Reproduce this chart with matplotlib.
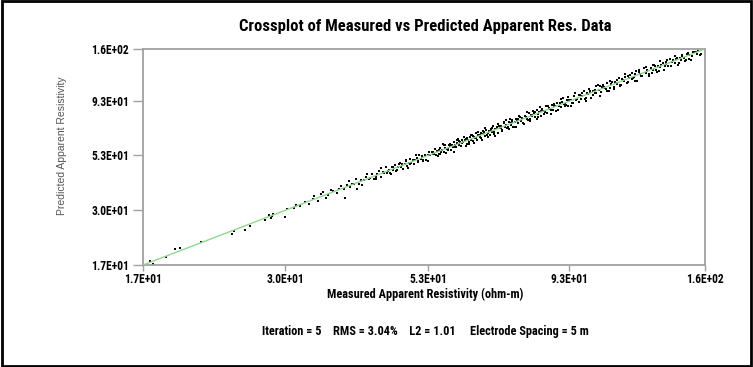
import matplotlib
matplotlib.use("Agg")
import matplotlib.pyplot as plt
from matplotlib import font_manager
from matplotlib.patches import Rectangle
from matplotlib.ticker import NullLocator
import numpy as np

# measured vs predicted apparent resistivity (ohm-m)
measured_low = [17.5, 17.7, 18.6, 19.3, 19.7, 21.4, 24.2, 24.4, 25.5, 26.0,
                27.7, 28.1, 28.3, 28.4, 28.6, 30.0, 30.2, 31.0, 31.3, 31.8,
                32.4, 32.9, 33.5, 33.6, 34.2, 34.6, 34.9, 35.3, 35.6, 36.0]
predicted_low = [17.7, 17.2, 18.4, 20.0, 20.3, 21.6, 23.4, 24.2, 24.4, 25.6,
                 27.1, 28.6, 27.6, 28.2, 28.9, 27.9, 30.3, 30.6, 31.6, 31.2,
                 32.8, 31.9, 33.9, 34.8, 33.1, 35.6, 36.4, 34.0, 35.2, 36.9]

measured_mid = [36.3, 36.8, 37.2, 37.5, 37.9, 38.1, 38.4, 38.8, 39.1, 39.5,
                39.8, 40.2, 40.5, 40.7, 41.1, 41.4, 41.8, 42.0, 42.3, 42.7,
                43.0, 43.3, 43.6, 43.9, 44.2, 44.5, 44.8, 45.0, 45.3, 45.6,
                45.9, 46.1, 46.4, 46.7, 47.0, 47.2, 47.5, 47.8, 48.0, 48.3,
                48.6, 48.8, 49.1, 49.4, 49.6, 49.9, 50.2, 50.4, 50.7, 51.0,
                51.2, 51.5, 51.8, 52.0, 52.3, 52.6, 52.9, 53.2, 53.5, 53.8,
                45.1, 46.0, 46.9, 47.7, 48.5, 49.3, 50.1, 50.9, 51.7, 52.5]
predicted_mid = [36.7, 35.9, 37.3, 38.7, 37.6, 34.2, 39.2, 38.3, 39.5, 39.4,
                 41.4, 39.4, 41.2, 39.0, 41.1, 42.5, 41.3, 41.8, 43.8, 41.5,
                 42.3, 43.6, 44.9, 42.5, 44.8, 44.4, 46.9, 44.1, 45.6, 44.4,
                 46.8, 45.7, 47.9, 44.9, 47.1, 48.3, 46.8, 48.3, 46.0, 48.7,
                 49.9, 47.7, 48.9, 51.3, 49.0, 50.6, 48.7, 50.6, 51.7, 50.1,
                 53.4, 51.2, 52.3, 50.5, 53.5, 50.8, 53.2, 54.8, 53.0, 54.8,
                 44.9, 47.0, 45.4, 48.2, 50.3, 48.4, 50.4, 49.6, 52.6, 50.4]

measured_dense = [54.0, 54.2, 54.5, 54.7, 55.0, 55.1, 55.4, 55.6, 55.9, 56.1,
                  56.4, 56.6, 56.8, 57.1, 57.3, 57.6, 57.8, 58.1, 58.3, 58.5,
                  58.8, 59.0, 59.3, 59.5, 59.8, 60.0, 60.3, 60.5, 60.8, 61.0,
                  61.3, 61.6, 61.8, 62.1, 62.4, 62.6, 62.9, 63.2, 63.4, 63.7,
                  64.0, 64.3, 64.5, 64.8, 65.1, 65.4, 65.7, 66.0, 66.3, 66.6,
                  66.9, 67.2, 67.5, 67.8, 68.1, 68.4, 68.7, 69.0, 69.3, 69.7,
                  70.0, 70.3, 70.7, 71.0, 71.3, 71.7, 72.0, 72.4, 72.7, 73.1,
                  73.4, 73.8, 74.1, 74.5, 74.9, 75.2, 75.6, 76.0, 76.4, 76.8,
                  77.2, 77.6, 78.0, 78.4, 78.8, 79.2, 79.6, 80.0, 80.4, 80.9,
                  81.3, 81.7, 82.2, 82.6, 83.1, 83.5, 84.0, 84.4, 84.9, 85.3,
                  85.8, 86.3, 86.8, 87.2, 87.7, 88.2, 88.7, 89.2, 89.7, 90.2,
                  90.7, 91.2, 91.8, 92.3, 92.8, 93.4, 93.9, 94.5, 95.0, 95.6,
                  53.3, 54.1, 54.9, 55.7, 56.5, 57.3, 58.2, 59.1, 59.9, 60.7,
                  61.6, 62.5, 63.3, 64.2, 65.2, 66.1, 67.0, 68.0, 68.9, 69.9,
                  70.8, 71.8, 72.8, 73.8, 74.8, 75.8, 76.9, 77.9, 79.0, 80.1,
                  81.1, 82.2, 83.3, 84.5, 85.6, 86.7, 87.9, 89.1, 90.3, 91.5,
                  92.7, 94.0]
predicted_dense = [55.1, 53.8, 56.5, 53.4, 55.3, 52.6, 56.1, 57.2, 54.9, 56.1,
                   54.7, 57.5, 59.3, 56.6, 56.0, 59.0, 58.3, 55.8, 58.9, 57.7,
                   60.7, 58.8, 57.7, 60.6, 62.8, 59.0, 60.7, 58.4, 62.2, 60.9,
                   62.2, 58.6, 63.7, 62.2, 61.2, 63.9, 62.3, 65.7, 61.8, 64.3,
                   63.8, 66.9, 62.4, 65.6, 64.1, 67.1, 62.3, 66.3, 67.5, 65.1,
                   69.2, 66.7, 68.0, 65.3, 69.6, 67.6, 71.9, 67.6, 69.4, 70.7,
                   67.2, 72.3, 70.3, 71.7, 69.2, 74.4, 71.0, 72.6, 70.3, 74.9,
                   77.3, 72.4, 75.1, 71.2, 75.3, 77.2, 75.4, 74.1, 78.8, 76.0,
                   78.5, 73.3, 79.7, 78.9, 77.5, 82.6, 77.2, 80.7, 80.0, 82.5,
                   79.0, 84.6, 81.1, 83.5, 79.6, 85.7, 84.0, 82.9, 89.0, 82.2,
                   87.0, 85.7, 89.3, 85.1, 88.4, 83.8, 91.6, 88.3, 91.4, 87.4,
                   96.1, 90.8, 89.8, 94.5, 88.5, 94.5, 94.2, 91.3, 98.6, 94.2,
                   54.8, 53.6, 55.6, 53.9, 58.9, 56.5, 58.3, 57.7, 61.8, 60.3,
                   62.6, 59.6, 64.8, 63.5, 65.8, 68.4, 65.4, 69.0, 66.4, 71.3,
                   70.2, 74.9, 71.3, 74.3, 71.1, 77.2, 75.9, 80.2, 76.7, 80.4,
                   83.1, 79.2, 84.3, 84.2, 89.0, 84.8, 88.6, 84.6, 92.6, 90.6,
                   94.1, 90.9]

measured_high = [96.2, 96.8, 97.4, 98.0, 98.6, 99.2, 99.8, 100.4, 101.0, 101.7,
                 102.3, 103.0, 103.6, 104.3, 104.9, 105.6, 106.3, 107.0, 107.7, 108.4,
                 109.1, 109.8, 110.5, 111.2, 112.0, 112.7, 113.4, 114.2, 115.0, 115.7,
                 116.5, 117.3, 118.0, 118.8, 119.6, 120.4, 121.2, 122.1, 122.9, 123.7,
                 124.6, 125.4, 126.3, 127.1, 128.0, 128.9, 129.8, 130.7, 131.6, 132.5,
                 133.4, 134.3, 135.3, 136.2, 137.2, 138.1, 139.1, 140.1, 141.1, 142.1,
                 143.1, 144.1, 145.1, 146.1, 147.2, 148.2, 149.3, 150.3, 151.4, 152.5,
                 153.6, 154.7, 155.8, 156.9,
                 97.1, 99.5, 101.3, 103.3, 105.2, 107.3, 109.4, 111.6, 113.8, 115.4,
                 117.7, 119.9, 121.6, 124.1, 126.7, 129.3, 131.2, 133.9, 136.7, 139.6,
                 142.6, 145.6, 148.7, 151.9, 154.2, 157.3]
predicted_high = [95.0, 99.7, 94.9, 98.7, 103.0, 95.4, 101.3, 100.1, 103.4, 96.7,
                  103.2, 104.9, 101.4, 109.7, 104.1, 102.1, 108.4, 107.4, 106.0, 112.3,
                  103.2, 111.0, 113.5, 108.0, 112.2, 111.5, 117.9, 110.1, 116.8, 115.1,
                  119.9, 112.4, 118.7, 122.7, 117.2, 119.3, 123.5, 115.0, 126.0, 123.7,
                  121.2, 131.2, 124.5, 128.6, 123.0, 131.6, 129.0, 135.7, 128.6, 133.6,
                  127.3, 136.2, 138.8, 133.7, 137.6, 133.8, 143.8, 139.1, 142.5, 138.5,
                  146.2, 138.3, 145.8, 148.6, 145.3, 143.2, 153.5, 150.0, 142.3, 154.5,
                  154.5, 151.3, 156.9, 149.8,
                  99.3, 96.5, 102.3, 101.3, 109.3, 106.9, 106.3, 113.5, 108.8, 116.3,
                  120.8, 118.1, 127.0, 121.1, 127.3, 124.8, 133.7, 132.7, 140.4, 133.9,
                  144.5, 143.3, 152.0, 148.9, 155.9, 151.6]

# scattered outliers around the band
measured_outer = [38.6, 40.0, 41.6, 43.1, 44.0, 45.8, 47.4, 48.9, 50.5, 51.9,
                  53.0, 54.4, 55.3, 56.2, 57.0, 57.9, 58.7, 59.6, 60.4, 61.2,
                  62.0, 62.8, 63.6, 64.6, 65.5, 66.4, 67.4, 68.3, 69.2, 70.2,
                  71.2, 72.2, 73.2, 74.2, 75.3, 76.3, 77.4, 78.5, 79.6, 80.7,
                  81.8, 83.0, 84.1, 85.3, 86.5, 87.7, 88.9, 90.1, 91.4, 92.6,
                  93.9, 95.3, 96.6, 98.0, 99.4, 100.8, 102.2, 103.7, 105.2, 106.6,
                  108.1, 109.7, 111.3, 112.8, 114.5, 116.1, 117.8, 119.4, 121.1, 122.9,
                  124.6, 126.4, 128.2, 130.1, 131.9, 133.8, 135.7, 137.7, 139.7, 141.7,
                  143.7, 145.8, 147.9, 150.0]
predicted_outer = [40.7, 37.6, 43.6, 41.4, 46.7, 43.5, 49.1, 46.6, 53.5, 50.1,
                   49.9, 56.6, 53.6, 59.9, 54.5, 59.8, 54.8, 62.5, 58.2, 64.4,
                   59.5, 65.2, 60.0, 67.5, 63.4, 70.4, 64.1, 70.7, 64.8, 73.1,
                   68.6, 76.3, 70.1, 76.5, 71.2, 79.8, 74.5, 83.5, 75.9, 83.8,
                   77.0, 87.2, 81.2, 89.0, 81.2, 90.7, 84.6, 95.1, 88.4, 97.0,
                   89.0, 101.1, 92.6, 101.6, 93.7, 105.2, 99.0, 109.1, 98.5, 110.4,
                   103.2, 115.1, 105.4, 116.4, 109.7, 123.4, 113.2, 124.2, 114.4, 129.2,
                   120.4, 132.5, 120.3, 135.0, 125.7, 141.0, 128.9, 142.2, 134.1, 148.1,
                   135.4, 150.2, 141.4, 144.6]

tick_values = [17, 30, 53, 93, 160]
tick_labels = ["1.7E+01", "3.0E+01", "5.3E+01", "9.3E+01", "1.6E+02"]
axis_min, axis_max = 17, 160

title = "Crossplot of Measured vs Predicted Apparent Res. Data"
xlabel = "Measured Apparent Resistivity (ohm-m)"
ylabel = "Predicted Apparent Resistivity"
footer = "Iteration = 5    RMS = 3.04%    L2 = 1.01     Electrode Spacing = 5 m"

measured = np.array(measured_low + measured_mid + measured_dense
                    + measured_high + measured_outer)
predicted = np.array(predicted_low + predicted_mid + predicted_dense
                     + predicted_high + predicted_outer)

# pick a condensed face if one is installed, else plain Liberation Sans
installed = {f.name for f in font_manager.fontManager.ttflist}
narrow_face = "Liberation Sans"
for name in ["Liberation Sans Narrow", "DejaVu Sans Condensed",
             "Roboto Condensed", "Open Sans Condensed"]:
    if name in installed:
        narrow_face = name
        break
squeeze = 1.0 if narrow_face != "Liberation Sans" else 0.84
narrow = [narrow_face, "DejaVu Sans"]
W, H = 753, 367

fig = plt.figure(figsize=(W / 100, H / 100), dpi=100)
ax = fig.add_axes([143 / W, 1 - 265 / H, 562 / W, 216 / H])

ax.scatter(measured, predicted, s=3.5, marker="s", color="#000000",
           linewidths=0, zorder=2)
ax.plot([axis_min, axis_max], [axis_min, axis_max], color="#8fd88f",
        lw=1.0, zorder=3)

ax.set_xscale("log")
ax.set_yscale("log")
ax.set_xlim(axis_min, axis_max)
ax.set_ylim(axis_min, axis_max)
ax.xaxis.set_minor_locator(NullLocator())
ax.yaxis.set_minor_locator(NullLocator())
ax.set_xticks(tick_values)
ax.set_xticklabels(tick_labels)
ax.set_yticks(tick_values)
ax.set_yticklabels(tick_labels)
for lab in ax.get_xticklabels() + ax.get_yticklabels():
    lab.set_family(narrow)
    lab.set_fontweight("bold")
    lab.set_fontsize(8.3 * squeeze)
ax.tick_params(axis="y", which="major", color="#a0a0a0", length=7,
               width=1, pad=3)
ax.tick_params(axis="x", which="major", color="#a0a0a0", length=4,
               width=1, pad=2)
for sp in ax.spines.values():
    sp.set_color("#a0a0a0")
    sp.set_linewidth(1.3)

fig.text(425 / W, 1 - 26 / H, title, ha="center", va="center",
         family=narrow, fontweight="bold", fontsize=12 * squeeze)
fig.text(425 / W, 1 - 294 / H, xlabel, ha="center", va="center",
         family=narrow, fontweight="bold", fontsize=8.8 * squeeze)
fig.text(62 / W, 1 - 146 / H, ylabel, ha="center", va="center",
         rotation=90, family=["Liberation Sans", "DejaVu Sans"],
         fontsize=7.5, color="#555555")
fig.text(425 / W, 1 - 331 / H, footer, ha="center", va="center",
         family=narrow, fontweight="bold", fontsize=8.8 * squeeze)

fig.patches.append(Rectangle((0.002, 0.003), 0.995, 0.993,
                             transform=fig.transFigure, fill=False,
                             edgecolor="#000000", lw=2))

fig.savefig("out.png", dpi=100)
